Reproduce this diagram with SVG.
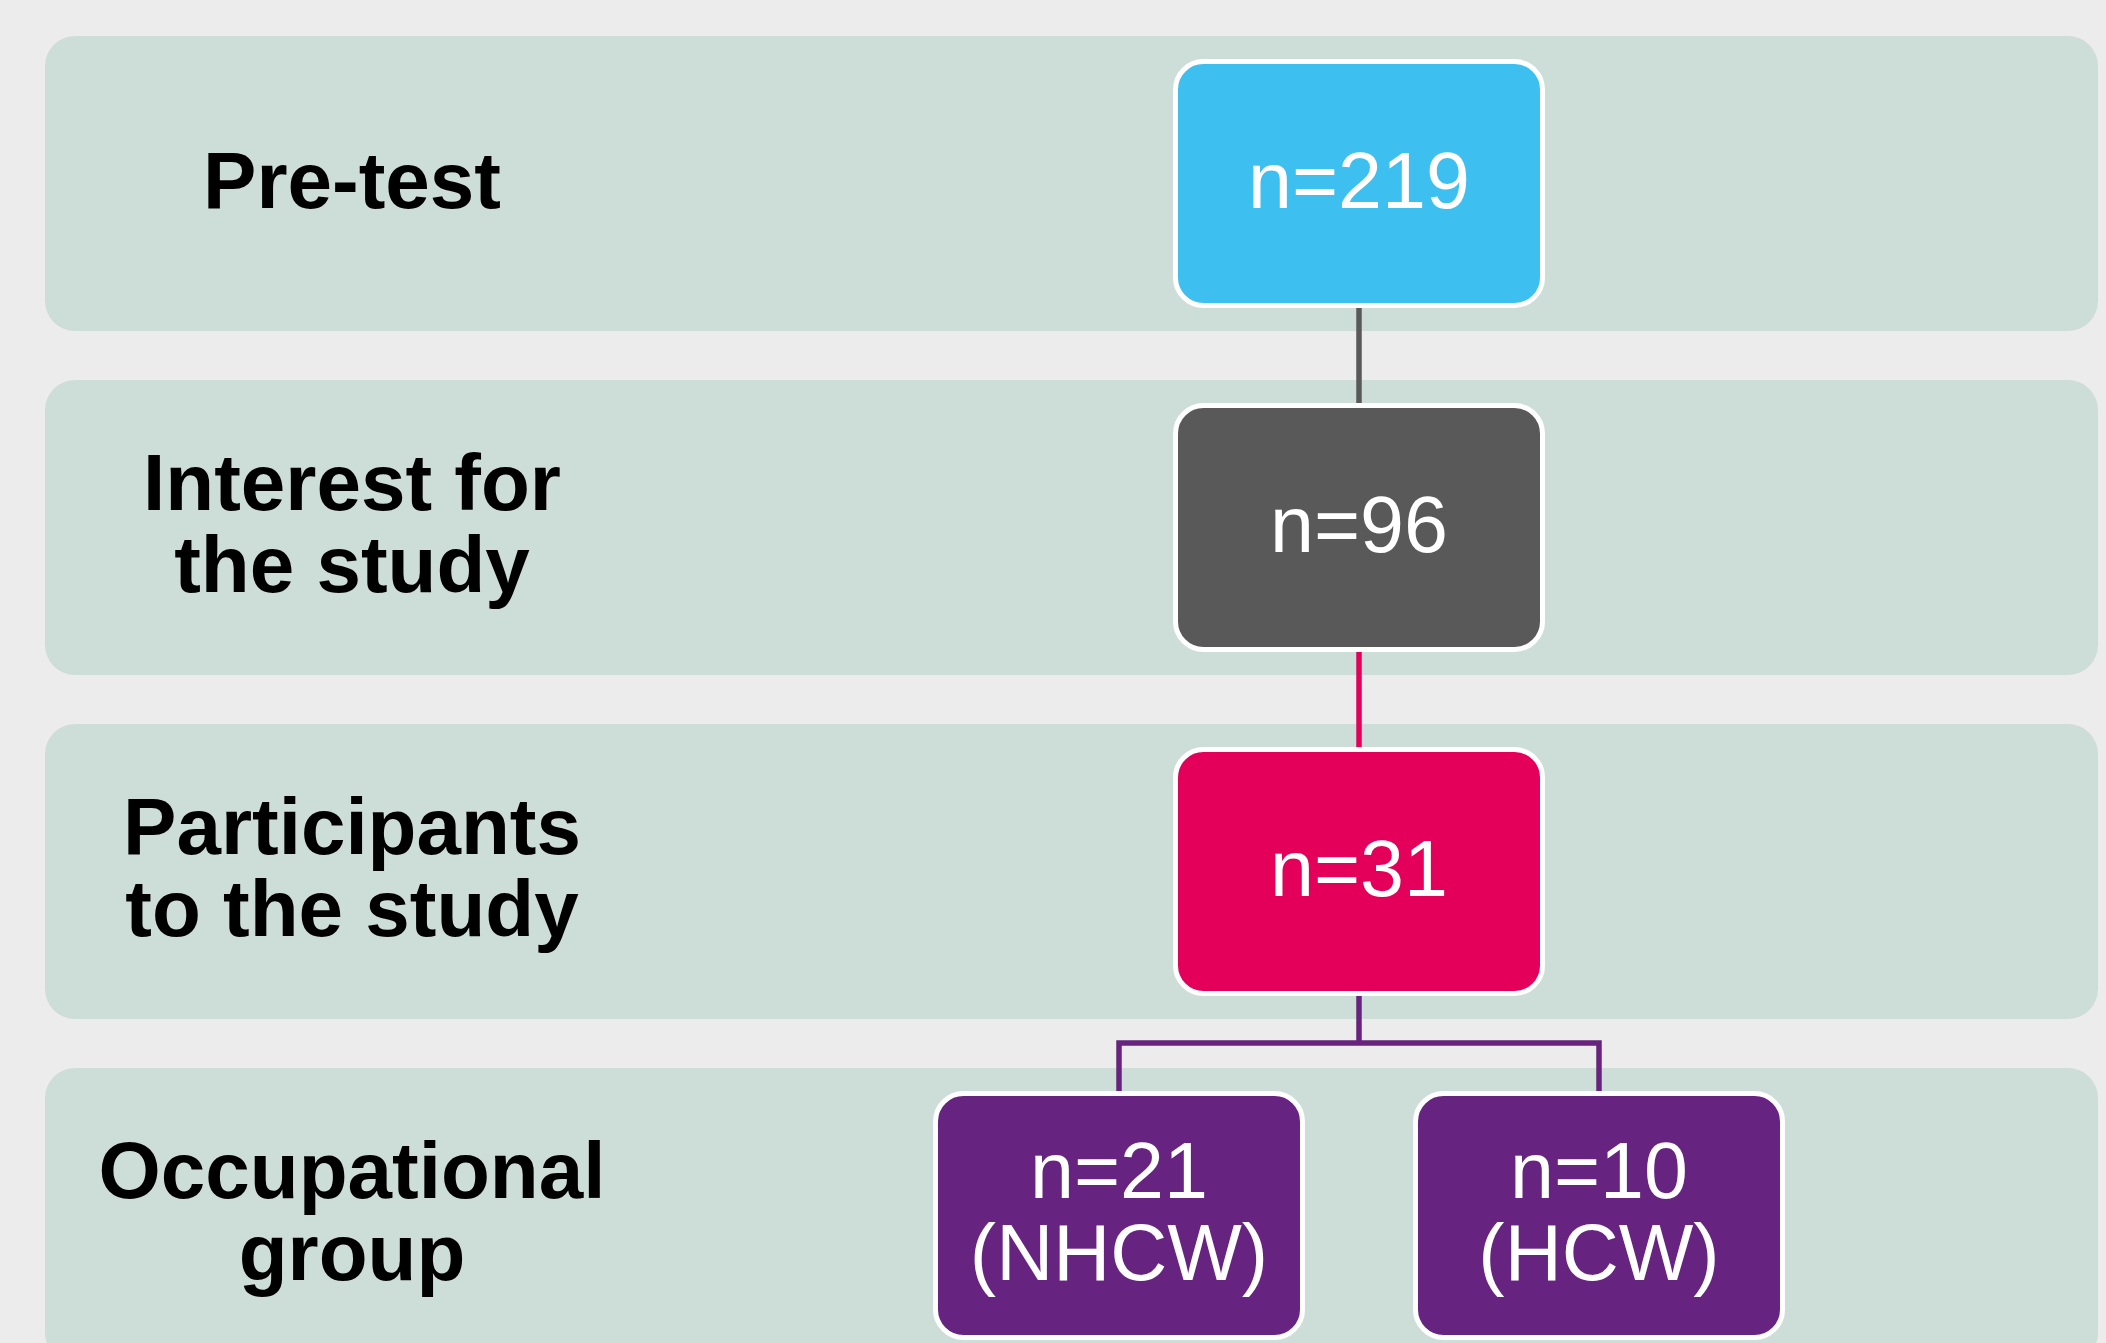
<svg xmlns="http://www.w3.org/2000/svg" width="2106" height="1343" viewBox="0 0 2106 1343">
<style>
.band{fill:#cddeD8}
.node{stroke:#ffffff;stroke-width:5}
.lbl{font-family:"Liberation Sans",Arial,sans-serif;font-weight:bold;font-size:80px;fill:#000000;text-anchor:middle}
.num{font-family:"Liberation Sans",Arial,sans-serif;font-size:79px;fill:#ffffff;text-anchor:middle}
.con{fill:none;stroke-width:5.5}
</style>
<rect width="2106" height="1343" fill="#ececec"/>
<g id="bands">
<rect class="band" x="45" y="36" width="2053" height="295" rx="30"/>
<rect class="band" x="45" y="380" width="2053" height="295" rx="30"/>
<rect class="band" x="45" y="724" width="2053" height="295" rx="30"/>
<rect class="band" x="45" y="1068" width="2053" height="295" rx="30"/>
</g>
<g id="labels">
<text class="lbl" x="352" y="208">Pre-test</text>
<text class="lbl" x="352" y="510">Interest for</text>
<text class="lbl" x="352" y="592">the study</text>
<text class="lbl" x="352" y="854">Participants</text>
<text class="lbl" x="352" y="936">to the study</text>
<text class="lbl" x="352" y="1198">Occupational</text>
<text class="lbl" x="352" y="1280">group</text>
</g>
<g id="connectors">
<line class="con" stroke="#595959" x1="1359" y1="306" x2="1359" y2="403"/>
<line class="con" stroke="#e4005a" x1="1359" y1="650" x2="1359" y2="747"/>
<path class="con" stroke="#68237f" d="M1359 994 V1043 M1119 1091 V1043 H1599 V1091"/>
</g>
<g id="node-219">
<rect class="node" x="1175.5" y="61.5" width="367" height="244" rx="28" fill="#3dbfef"/>
<text class="num" x="1359" y="208">n=219</text>
</g>
<g id="node-96">
<rect class="node" x="1175.5" y="405.5" width="367" height="244" rx="28" fill="#595959"/>
<text class="num" x="1359" y="552">n=96</text>
</g>
<g id="node-31">
<rect class="node" x="1175.5" y="749.5" width="367" height="244" rx="28" fill="#e4005a"/>
<text class="num" x="1359" y="896">n=31</text>
</g>
<g id="node-21">
<rect class="node" x="935.5" y="1093.5" width="367" height="244" rx="28" fill="#662480"/>
<text class="num" x="1119" y="1198">n=21</text>
<text class="num" x="1119" y="1280">(NHCW)</text>
</g>
<g id="node-10">
<rect class="node" x="1415.5" y="1093.5" width="367" height="244" rx="28" fill="#662480"/>
<text class="num" x="1599" y="1198">n=10</text>
<text class="num" x="1599" y="1280">(HCW)</text>
</g>
</svg>
